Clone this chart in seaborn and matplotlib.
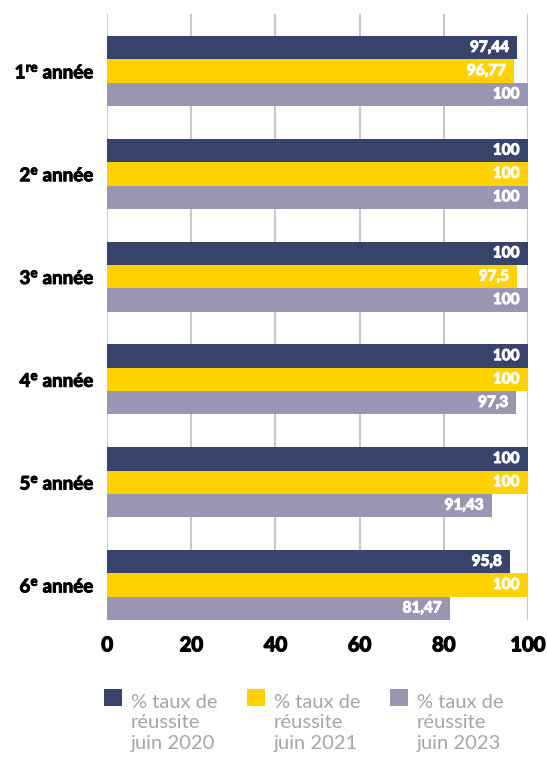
import pandas as pd
import numpy as np
import matplotlib.pyplot as plt
import matplotlib.patheffects as pe
import seaborn as sns
from matplotlib.patches import Rectangle
from matplotlib.legend_handler import HandlerPatch

annees = ["1$^{re}$ année", "2$^{e}$ année", "3$^{e}$ année",
          "4$^{e}$ année", "5$^{e}$ année", "6$^{e}$ année"]
series = ["% taux de\nréussite\njuin 2020",
          "% taux de\nréussite\njuin 2021",
          "% taux de\nréussite\njuin 2023"]
taux_2020 = [97.44, 100, 100, 100, 100, 95.8]
taux_2021 = [96.77, 100, 97.5, 100, 100, 100]
taux_2023 = [100, 100, 100, 97.3, 91.43, 81.47]
couleurs = ["#38436b", "#ffd200", "#9896b2"]

rows = []
for s, vals in zip(series, [taux_2020, taux_2021, taux_2023]):
    for a, v in zip(annees, vals):
        rows.append({"annee": a, "serie": s, "taux": v})
data = pd.DataFrame(rows)

sns.set_style("white")
plt.rcParams['font.family'] = ['Lato', 'DejaVu Sans']
plt.rcParams['mathtext.fontset'] = 'custom'
plt.rcParams['mathtext.rm'] = 'Lato:bold'
plt.rcParams['mathtext.it'] = 'Lato:bold'
plt.rcParams['mathtext.bf'] = 'Lato:bold'

fig = plt.figure(figsize=(5.47, 7.57), dpi=100)
ax = fig.add_axes([0.196, 0.181, 0.769, 0.8005])
sns.barplot(data=data, x="taux", y="annee", hue="serie", orient="h",
            palette=couleurs, width=0.68, gap=0, saturation=1,
            edgecolor="none", linewidth=0, ax=ax, zorder=3)

def fmt(v):
    return f"{v:g}".replace(".", ",")

for cont in ax.containers:
    for bar in cont:
        w = bar.get_width()
        yc = bar.get_y() + bar.get_height() / 2
        ax.annotate(fmt(w), (w, yc), xytext=(-6, 0), textcoords="offset points",
                    ha="right", va="center", color="white",
                    fontsize=11, fontweight="bold", zorder=4,
                    path_effects=[pe.withStroke(linewidth=0.8, foreground="white")])

ax.set_xlim(0, 100)
ax.set_ylim(5.34, -0.555)
ax.set_xticks([0, 20, 40, 60, 80, 100])
ax.grid(axis="x", color="#c8c8c8", linewidth=1.5, zorder=0)
ax.grid(axis="y", visible=False)
for sp in ax.spines.values():
    sp.set_visible(False)
ax.tick_params(axis="both", length=0)
ax.tick_params(axis="x", pad=11, labelsize=14.5)
ax.tick_params(axis="y", pad=9, labelsize=13.5)
for lab in ax.get_xticklabels():
    lab.set_fontweight("bold")
    lab.set_color("black")
    lab.set_path_effects([pe.withStroke(linewidth=1.0, foreground="black")])
for lab in ax.get_yticklabels():
    lab.set_fontweight("bold")
    lab.set_color("black")
    lab.set_path_effects([pe.withStroke(linewidth=0.7, foreground="black")])
ax.set_xlabel("")
ax.set_ylabel("")


class HandlerTop(HandlerPatch):
    def create_artists(self, legend, orig_handle, xdescent, ydescent,
                       width, height, fontsize, trans):
        p = Rectangle((-xdescent, -ydescent + 1.25 * fontsize), width, height)
        self.update_prop(p, orig_handle, legend)
        p.set_transform(trans)
        return [p]


handles, labels = ax.get_legend_handles_labels()
ax.legend_.remove()
leg = fig.legend(handles, labels, loc="upper left", bbox_to_anchor=(0.175, 0.094),
                 ncol=3, frameon=False, fontsize=14.5, labelcolor="#a6a6a6",
                 handlelength=0.9, handleheight=0.9, handletextpad=0.45,
                 columnspacing=1.45, borderaxespad=0,
                 handler_map={Rectangle: HandlerTop()})
for t in leg.get_texts():
    t.set_linespacing(1.25)

fig.savefig("out.png", dpi=100)
